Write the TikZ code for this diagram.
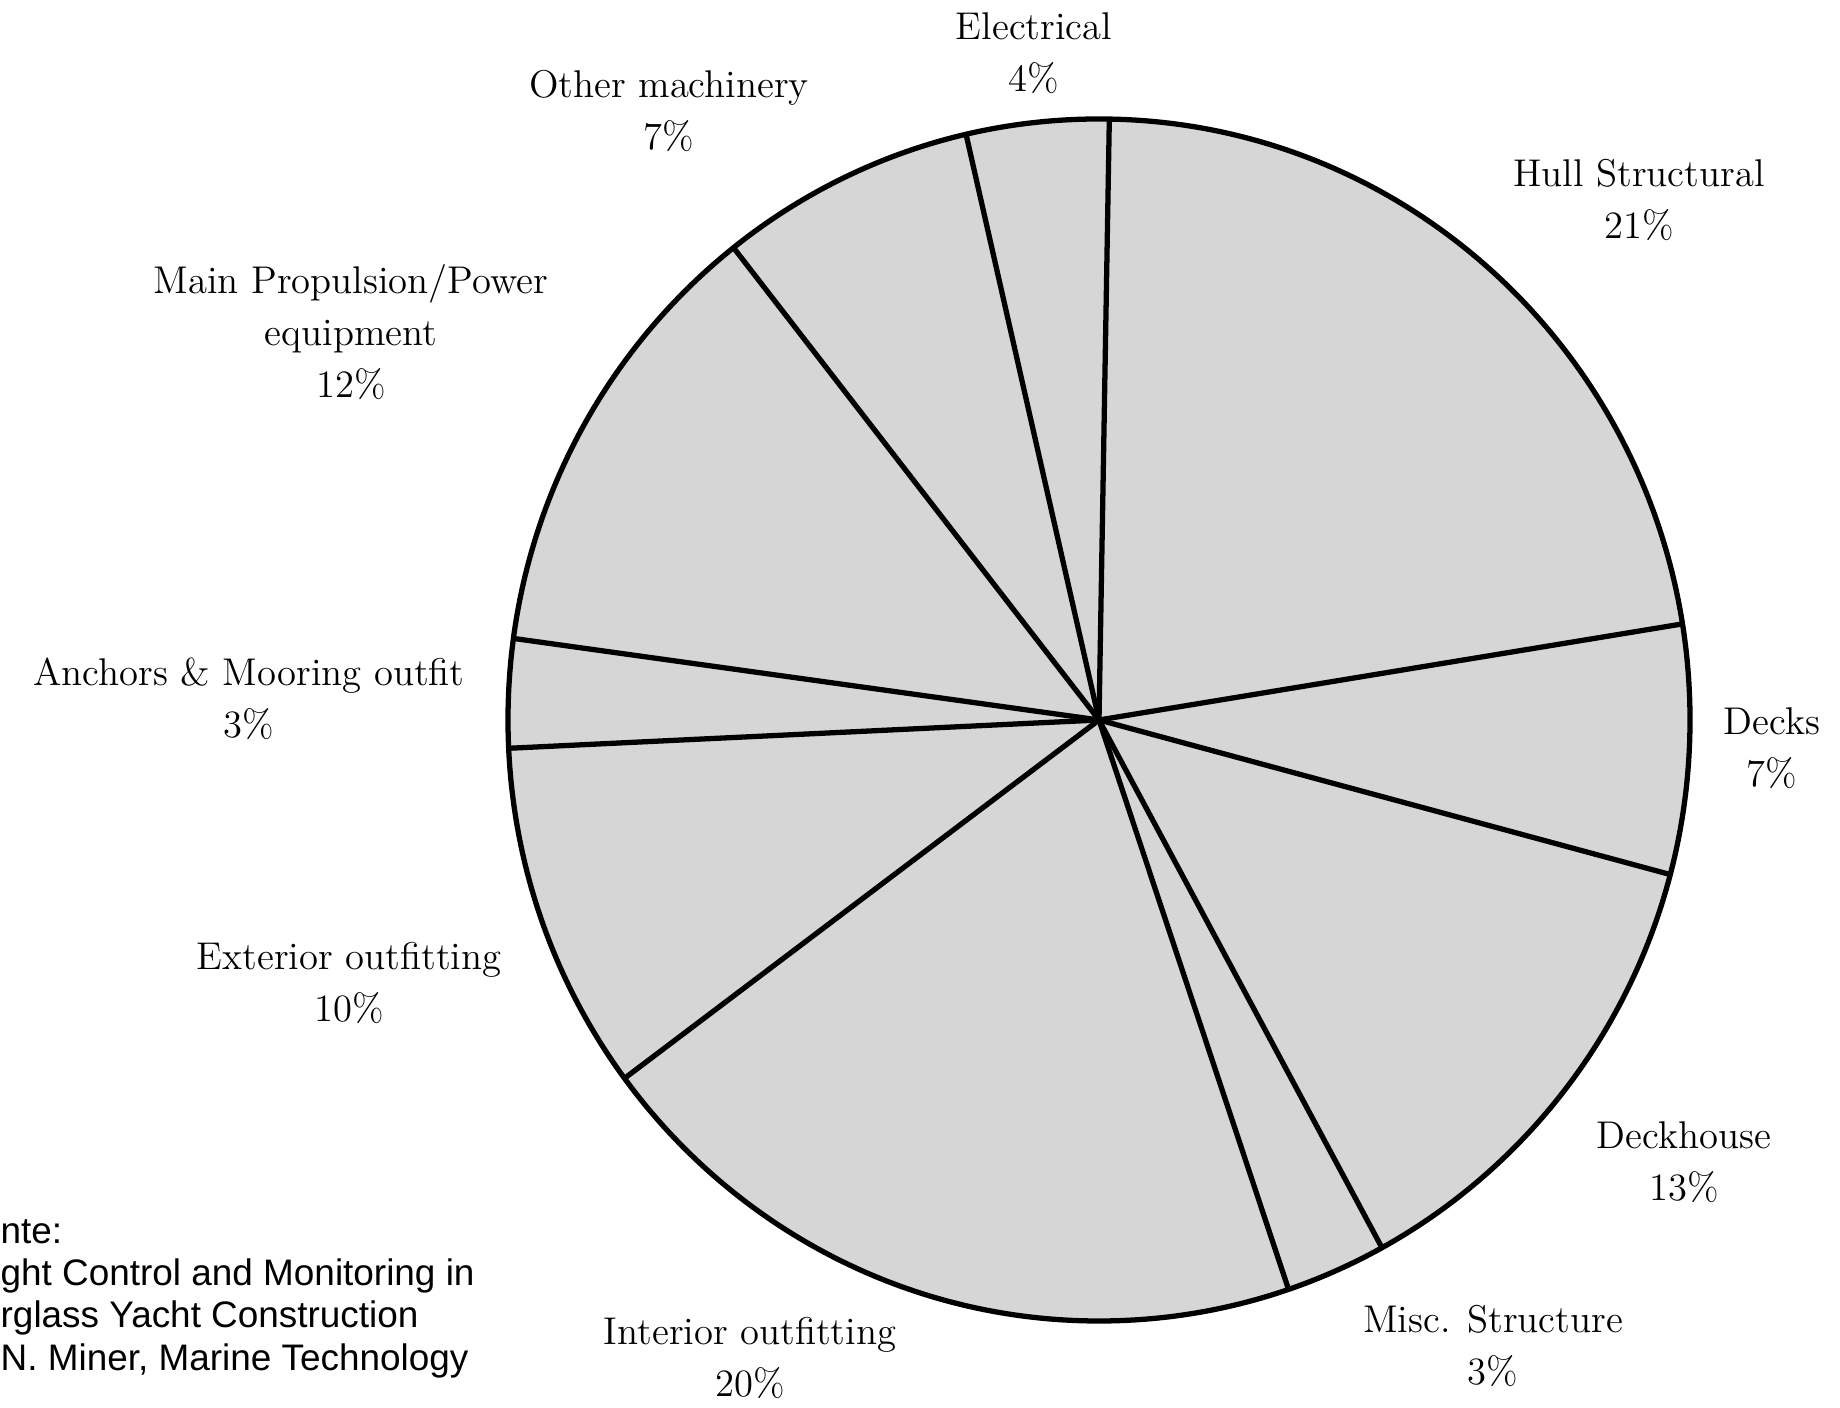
\documentclass[tikz,border=0pt]{standalone}
\usepackage{fontspec}
\newfontfamily\srcfont{Liberation Sans}
\begin{document}
\begin{tikzpicture}[x=0.1mm, y=0.1mm, lbl/.style = {align=center, inner sep=0pt, font=\fontsize{11}{14.8}\selectfont}, cut/.style = {line width=1.5pt}]
\useasboundingbox (0,0) rectangle (1840,1408);
\coordinate (c) at (1099,688);
% pie body
\fill[black!16] (c) ellipse [x radius=591, y radius=601];
\draw[cut] (c) -- ++(89:591 and 601);
\draw[cut] (c) -- ++(9.2:591 and 601);
\draw[cut] (c) -- ++(-14.9:591 and 601);
\draw[cut] (c) -- ++(-61.4:591 and 601);
\draw[cut] (c) -- ++(-71.3:591 and 601);
\draw[cut] (c) -- ++(216.6:591 and 601);
\draw[cut] (c) -- ++(182.7:591 and 601);
\draw[cut] (c) -- ++(172.2:591 and 601);
\draw[cut] (c) -- ++(128.2:591 and 601);
\draw[cut] (c) -- ++(103:591 and 601);
\draw[cut] (c) ellipse [x radius=591, y radius=601];
% labels
\node[lbl] (elec) at (1034,1355) {Electrical\\4\%};
\node[lbl] (othm) at (669,1297) {Other machinery\\7\%};
\node[lbl] (hull) at (1639,1208) {Hull Structural\\21\%};
\node[lbl] (prop) at (351,1076) {Main Propulsion/Power\\equipment\\12\%};
\node[lbl] (anch) at (249,709) {Anchors \& Mooring outfit\\3\%};
\node[lbl] (deck) at (1772,660) {Decks\\7\%};
\node[lbl] (extr) at (349,425) {Exterior outfitting\\10\%};
\node[lbl] (dkhs) at (1684,246) {Deckhouse\\13\%};
\node[lbl] (misc) at (1493,62) {Misc. Structure\\3\%};
\node[lbl] (intr) at (750,50) {Interior outfitting\\20\%};
\node[align=left, inner sep=0pt, anchor=north west, font=\srcfont\fontsize{10.5}{12}\selectfont] (src) at (0,189) {nte:\\ght Control and Monitoring in\\rglass Yacht Construction\\N. Miner, Marine Technology};
\end{tikzpicture}
\end{document}
